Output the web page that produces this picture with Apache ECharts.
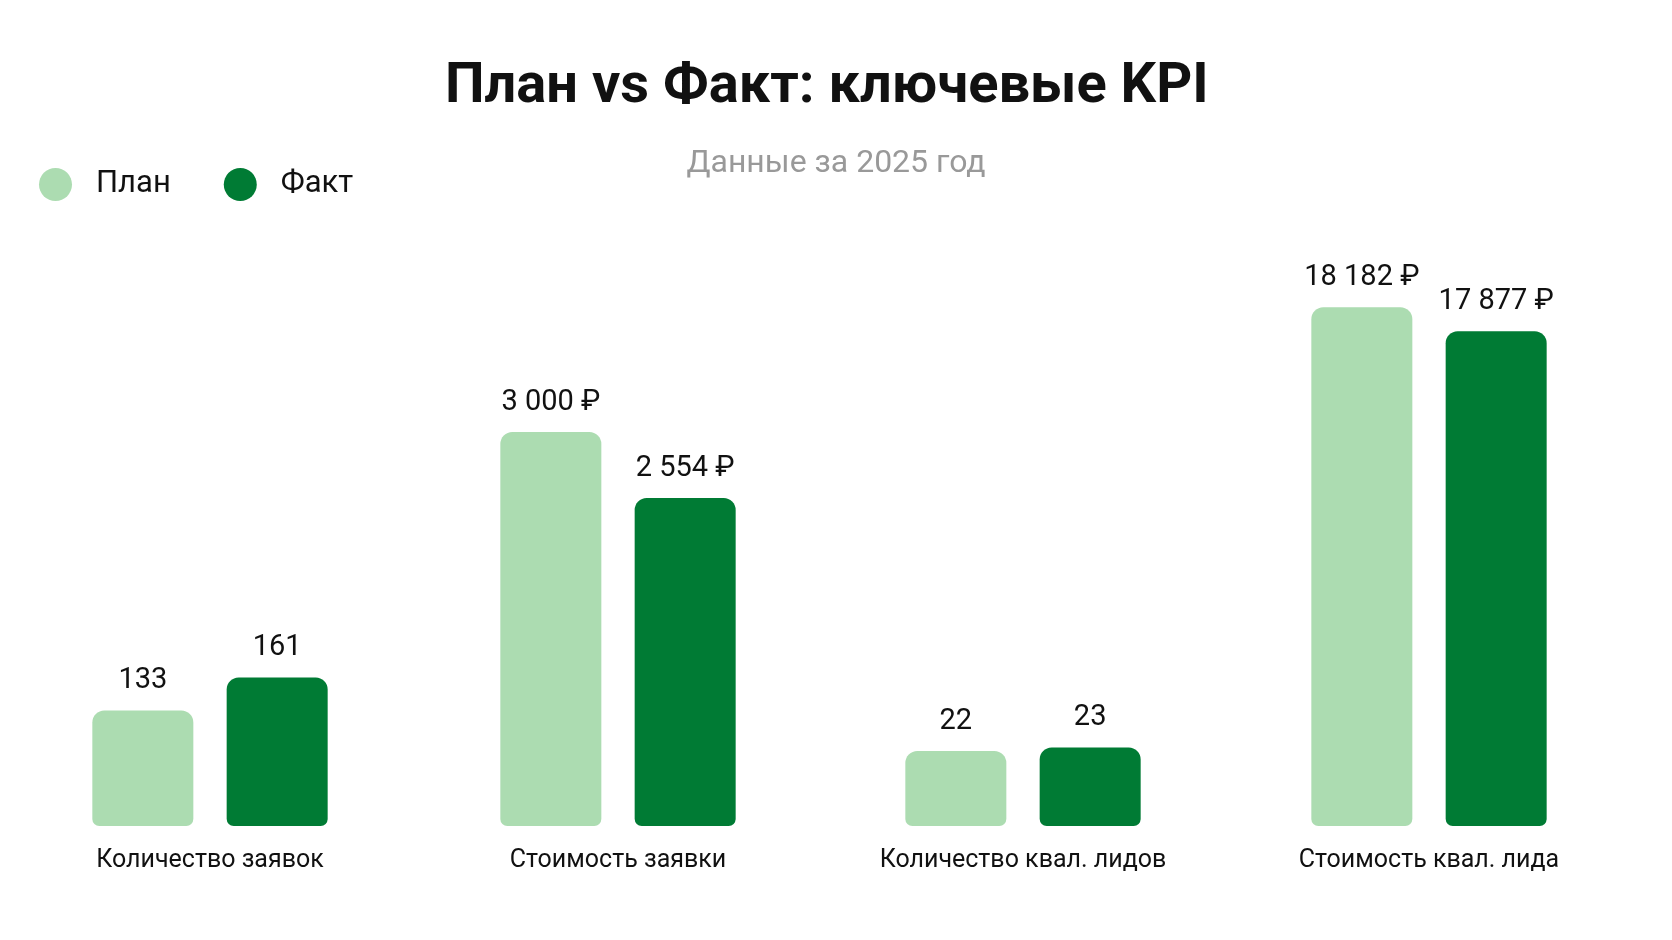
<!DOCTYPE html>
<html>
  <head>
    <title>План vs Факт: ключевые KPI</title>
    <meta charset="utf-8">
    <script type="text/javascript" src="https://cdn.jsdelivr.net/npm/echarts@6/dist/echarts.min.js"></script>
    <style>
      html, body { margin: 0; padding: 0; background: #ffffff; }
    </style>
  </head>
  <body>
    <div id="main" style="width: 1672px;height:940px;"></div>

    <script type="text/javascript">
    // данные
    var categories = ['Количество заявок', 'Стоимость заявки', 'Количество квал. лидов', 'Стоимость квал. лида'];
    var planValues = [133, 3000, 22, 18182];
    var factValues = [161, 2554, 23, 17877];
    var units = ['', ' ₽', '', ' ₽'];
    // у каждого показателя своя шкала
    var axisMin = [35, 340, 0, 11590];
    var axisMax = [510, 4120, 164, 18705];

    var centers = [210, 618, 1023, 1429];
    var lightGreen = '#acdcb1';
    var darkGreen = '#007b34';

    function fmt(v, unit) {
      return String(v).replace(/\B(?=(\d{3})+(?!\d))/g, ' ') + unit;
    }

    var dom = document.getElementById('main');
    var myChart = echarts.init(dom, null, { renderer: 'canvas' });

    var grids = [], xAxes = [], yAxes = [], series = [];
    for (var i = 0; i < categories.length; i++) {
      grids.push({ left: centers[i] - 150, width: 300, top: 266, bottom: 114 });
      xAxes.push({
        type: 'category',
        gridIndex: i,
        data: [categories[i]],
        axisLine: { show: false },
        axisTick: { show: false },
        axisLabel: { margin: 22, fontSize: 25, color: '#111', fontFamily: 'Roboto' }
      });
      yAxes.push({ type: 'value', gridIndex: i, min: axisMin[i], max: axisMax[i], show: false, splitLine: { show: false } });
      (function (unit) {
        var lbl = {
          show: true, position: 'top', distance: 15,
          fontSize: 29, color: '#111', fontFamily: 'Roboto',
          formatter: function (p) { return fmt(p.value, unit); }
        };
        series.push({
          name: 'План', type: 'bar', xAxisIndex: i, yAxisIndex: i,
          barWidth: 101, barGap: '33%',
          itemStyle: { color: lightGreen, borderRadius: [12, 12, 7, 7] },
          label: lbl, data: [planValues[i]]
        });
        series.push({
          name: 'Факт', type: 'bar', xAxisIndex: i, yAxisIndex: i,
          barWidth: 101, barGap: '33%',
          itemStyle: { color: darkGreen, borderRadius: [12, 12, 7, 7] },
          label: lbl, data: [factValues[i]]
        });
      })(units[i]);
    }

    var option = {
      backgroundColor: '#ffffff',
      animation: false,
      title: [
        {
          text: 'План vs Факт: ключевые KPI',
          left: 440, top: 55,
          textStyle: { fontSize: 56, fontWeight: 'bold', color: '#111', fontFamily: 'Roboto' }
        },
        {
          text: 'Данные за 2025 год',
          left: 'center', top: 143,
          textStyle: { fontSize: 32, fontWeight: 'normal', color: '#999', fontFamily: 'Roboto' }
        }
      ],
      legend: {
        data: ['План', 'Факт'],
        left: 34, top: 163,
        icon: 'circle',
        itemWidth: 33, itemHeight: 33,
        itemGap: 53,
        textStyle: { fontSize: 31, color: '#111', fontFamily: 'Roboto', padding: [0, 0, 0, 19] }
      },
      grid: grids,
      xAxis: xAxes,
      yAxis: yAxes,
      series: series
    };

    myChart.setOption(option, true);
    </script>
  </body>
</html>
